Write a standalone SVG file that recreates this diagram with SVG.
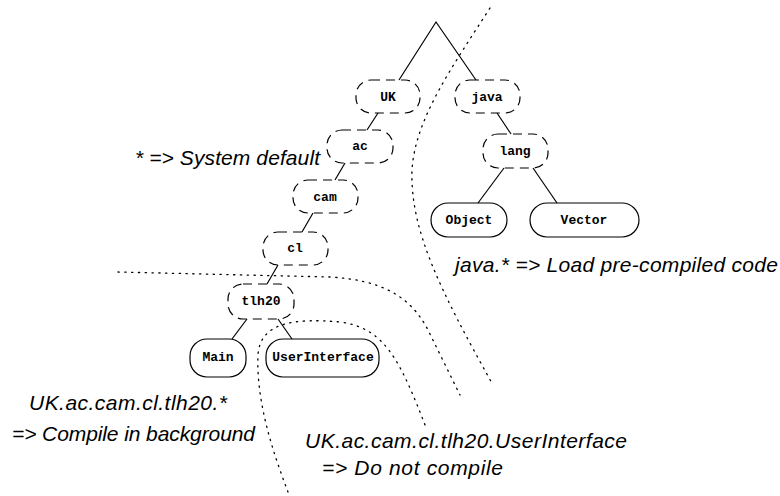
<svg xmlns="http://www.w3.org/2000/svg" width="780" height="496" viewBox="0 0 780 496">
<style>
.dn{fill:none;stroke:#000;stroke-width:1.2;stroke-dasharray:9 6}
.sn{fill:none;stroke:#000;stroke-width:1.2}
.lbl{font-family:"Liberation Mono","Courier New",monospace;font-weight:bold;font-size:13px;text-anchor:middle;fill:#000}
.edge{fill:none;stroke:#000;stroke-width:1.2}
.dot{fill:none;stroke:#000;stroke-width:1.3;stroke-dasharray:1.3 5.5;stroke-linecap:round}
.note{font-family:"Liberation Sans",Arial,sans-serif;font-style:italic;font-size:21px;fill:#000}
</style>
<rect width="780" height="496" fill="#fff"/>
<g id="boundaries">
<path class="dot" d="M 490 8 C 450 70, 415 120, 412 170 C 410 230, 440 290, 493 385"/>
<path class="dot" d="M 118 272 L 330 277 C 380 280, 410 295, 428 330 L 460 395"/>
<path class="dot" d="M 288 492 C 272 450, 256 400, 258 355 C 260 322, 295 318, 340 322 C 385 328, 400 360, 427 430"/>
</g>
<g id="connectors">
<path class="edge" d="M 399 80 L 436 22 L 476 80"/>
<line class="edge" x1="378" y1="113" x2="367" y2="130"/>
<line class="edge" x1="345" y1="163" x2="335" y2="180"/>
<line class="edge" x1="313" y1="213" x2="302" y2="232"/>
<line class="edge" x1="278" y1="265" x2="267" y2="284"/>
<line class="edge" x1="247" y1="319" x2="232" y2="339"/>
<line class="edge" x1="278" y1="319" x2="292" y2="339"/>
<line class="edge" x1="497" y1="113" x2="511" y2="134"/>
<line class="edge" x1="504" y1="168" x2="478" y2="203"/>
<line class="edge" x1="533" y1="168" x2="557" y2="203"/>
</g>
<g id="node-UK"><rect class="dn" x="356" y="80" width="64" height="33" rx="15"/><text class="lbl" x="388" y="101">UK</text></g>
<g id="node-java"><rect class="dn" x="455" y="80" width="65" height="33" rx="15"/><text class="lbl" x="487" y="101">java</text></g>
<g id="node-ac"><rect class="dn" x="327" y="130" width="66" height="33" rx="15"/><text class="lbl" x="360" y="150">ac</text></g>
<g id="node-lang"><rect class="dn" x="483" y="134" width="65" height="34" rx="15"/><text class="lbl" x="515" y="155">lang</text></g>
<g id="node-cam"><rect class="dn" x="293" y="180" width="65" height="33" rx="15"/><text class="lbl" x="325" y="201">cam</text></g>
<g id="node-cl"><rect class="dn" x="263" y="232" width="65" height="33" rx="15"/><text class="lbl" x="295" y="252">cl</text></g>
<g id="node-tlh20"><rect class="dn" x="228" y="284" width="66" height="35" rx="15"/><text class="lbl" x="261" y="305">tlh20</text></g>
<g id="node-Main"><rect class="sn" x="190" y="339" width="56" height="38" rx="17"/><text class="lbl" x="218" y="361">Main</text></g>
<g id="node-UserInterface"><rect class="sn" x="266" y="339" width="113" height="38" rx="17"/><text class="lbl" x="323" y="361">UserInterface</text></g>
<g id="node-Object"><rect class="sn" x="431" y="203" width="76" height="34" rx="17"/><text class="lbl" x="469" y="224">Object</text></g>
<g id="node-Vector"><rect class="sn" x="530" y="203" width="109" height="34" rx="17"/><text class="lbl" x="584" y="224">Vector</text></g>
<g id="notes">
<text class="note" x="135" y="165" textLength="185">* =&gt; System default</text>
<text class="note" x="455" y="272" textLength="323">java.* =&gt; Load pre-compiled code</text>
<text class="note" x="29" y="410" textLength="198">UK.ac.cam.cl.tlh20.*</text>
<text class="note" x="12" y="441" textLength="243">=&gt; Compile in background</text>
<text class="note" x="305" y="448" textLength="322">UK.ac.cam.cl.tlh20.UserInterface</text>
<text class="note" x="322" y="475" textLength="181">=&gt; Do not compile</text>
</g>
</svg>
